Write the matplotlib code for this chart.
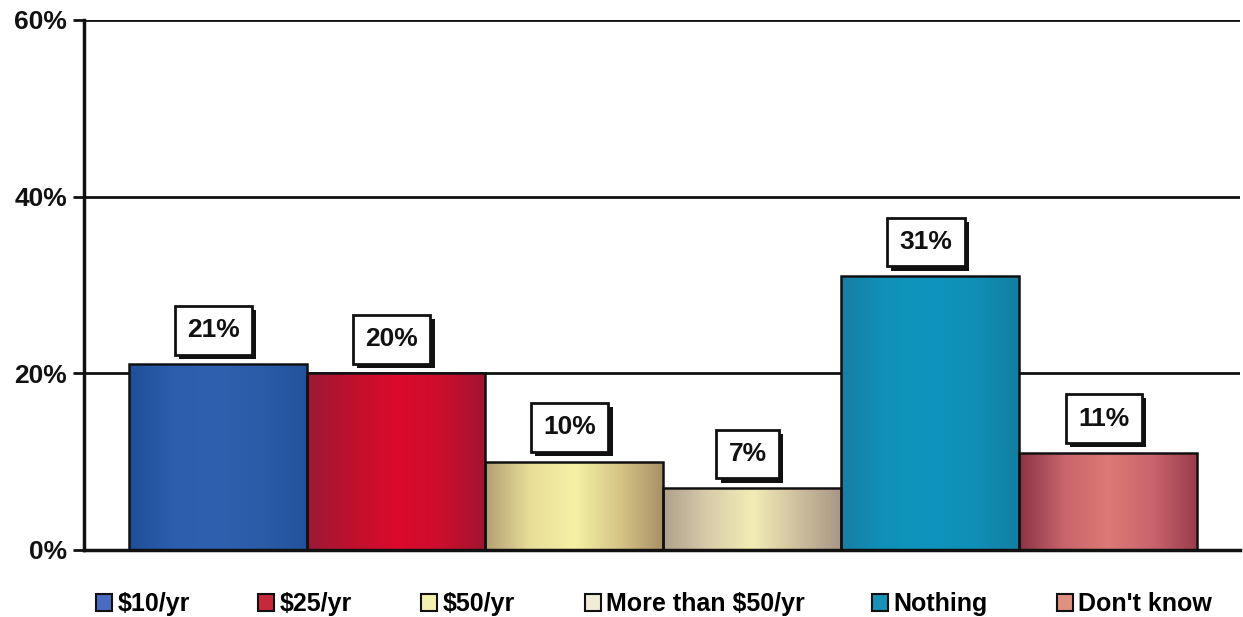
import numpy as np
import matplotlib.pyplot as plt
import matplotlib.patheffects as pe
from matplotlib.colors import LinearSegmentedColormap
from matplotlib.patches import Patch
from matplotlib.ticker import FuncFormatter

plt.rcParams['font.family'] = ['Liberation Sans', 'DejaVu Sans']
plt.rcParams['font.weight'] = 'bold'

# survey answers: how much would you pay
categories = ["$10/yr", "$25/yr", "$50/yr", "More than $50/yr", "Nothing", "Don't know"]
values = [21, 20, 10, 7, 31, 11]

# shading stops across each bar (left edge -> right edge)
shades = [
    ["#1f4f98", "#2b5fae", "#2d60ae", "#2a5ca8", "#24529a"],
    ["#9a1a35", "#c0102e", "#dc0a2c", "#cc0e2e", "#a01530"],
    ["#b39f74", "#e8dd98", "#f4f1a4", "#d7c588", "#a89066"],
    ["#b0a08e", "#d8ccaa", "#f2ecb4", "#cfc0a0", "#a89684"],
    ["#187ea4", "#0f92ba", "#0e95bd", "#0f8fb6", "#157ea2"],
    ["#8a3346", "#c8646c", "#dc7a76", "#c8646c", "#9a3c4c"],
]
legend_colors = ["#4a6cc0", "#c8283c", "#f4f0b0", "#f0ecd8", "#1890b8", "#e0907e"]
# left edge of each legend entry, in figure pixels
legend_left = [96, 258, 421, 585, 872, 1057]

W, H = 1243, 617
fig = plt.figure(figsize=(W / 100, H / 100), dpi=100)
ax = fig.add_axes([0.0676, 0.1086, 0.9300, 0.8590])

x = np.arange(len(values))
bars = ax.bar(x, values, width=1.0, color="none", edgecolor="#111111", linewidth=1.8, zorder=3)

grad = np.linspace(0, 1, 256).reshape(1, -1)
for bar, stops in zip(bars, shades):
    cmap = LinearSegmentedColormap.from_list("shade", stops)
    x0, w, h = bar.get_x(), bar.get_width(), bar.get_height()
    im = ax.imshow(grad, cmap=cmap, aspect="auto", extent=[x0, x0 + w, 0, h],
                   interpolation="bilinear", zorder=2)
    im.set_clip_path(bar)

ax.set_xlim(-0.75, 5.74)
ax.set_ylim(0, 60)
ax.set_yticks([0, 20, 40, 60])
ax.yaxis.set_major_formatter(FuncFormatter(lambda v, p: f"{v:.0f}%"))
ax.tick_params(axis="y", length=8, width=2, pad=4, labelsize=19, colors="#111111")
ax.set_xticks([])
ax.grid(axis="y", color="#111111", linewidth=2.0, zorder=1)
for s in ["top", "right"]:
    ax.spines[s].set_visible(False)
for s in ["left", "bottom"]:
    ax.spines[s].set_linewidth(2.5)
    ax.spines[s].set_color("#111111")

# value boxes with a drop shadow
shadow = [pe.SimplePatchShadow(offset=(3, -3), shadow_rgbFace="#111111", alpha=1.0), pe.Normal()]
for xi, v in zip(x, values):
    t = ax.annotate(f"{v}%", (xi, v), xytext=(-3, 16), textcoords="offset points",
                    ha="center", va="bottom", fontsize=19, fontweight="bold",
                    color="#111111", zorder=5,
                    bbox=dict(boxstyle="square,pad=0.47", fc="white", ec="#111111", lw=2))
    t.get_bbox_patch().set_path_effects(shadow)

# one legend per entry so each sits where it belongs
for lbl, c, px in zip(categories, legend_colors, legend_left):
    h = Patch(facecolor=c, edgecolor="#111111", linewidth=1.5)
    fig.legend([h], [lbl], loc="center left", bbox_to_anchor=(px / W, 0.021),
               frameon=False, fontsize=18, handlelength=0.65, handleheight=0.65,
               handletextpad=0.2, borderpad=0, borderaxespad=0)

fig.savefig("out.png", dpi=100)
